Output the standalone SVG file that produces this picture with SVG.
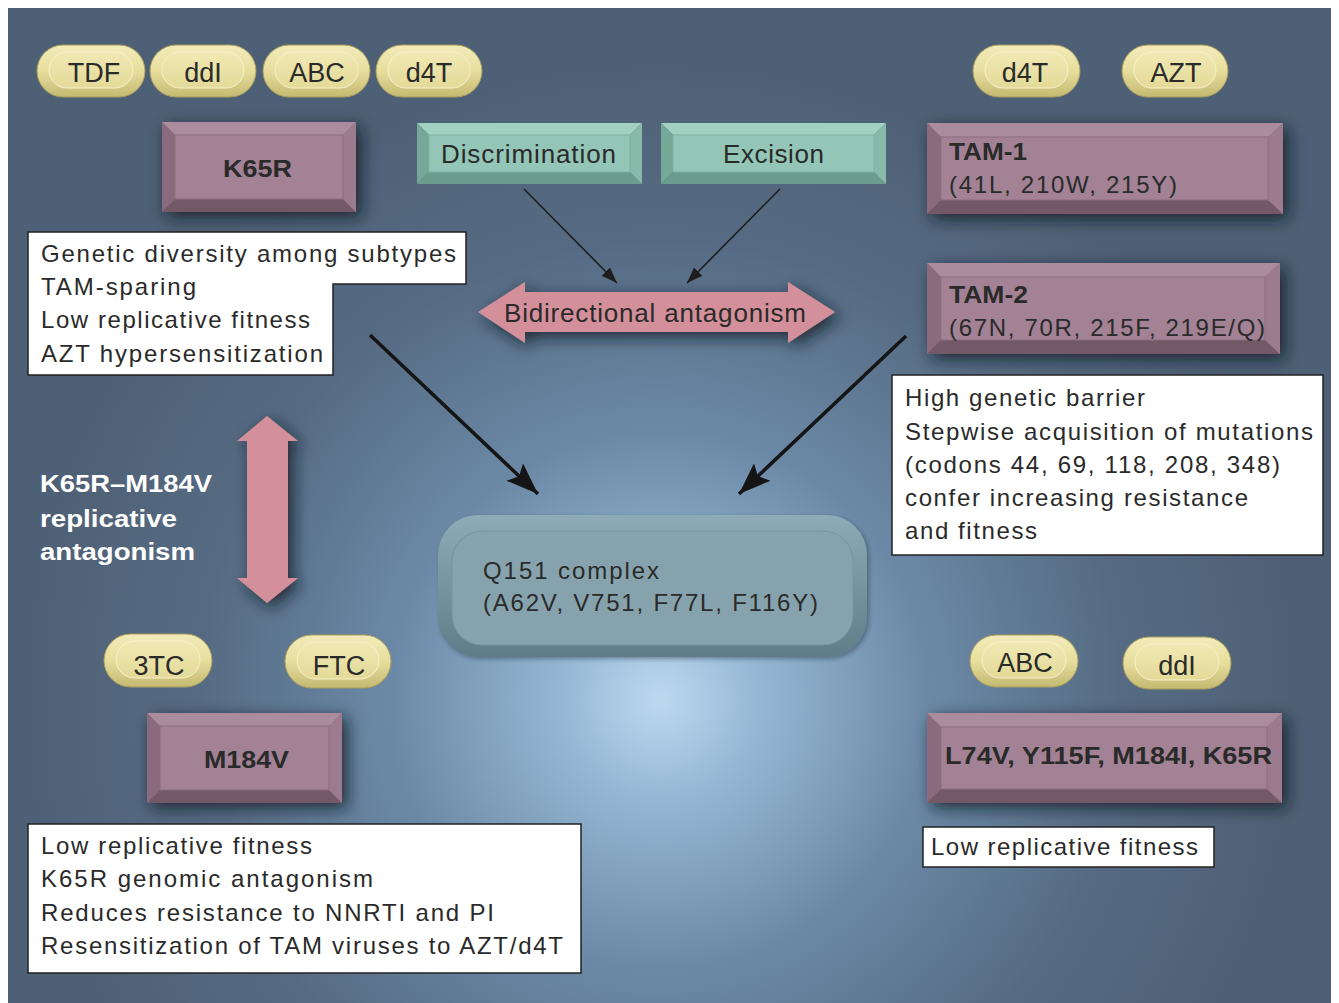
<svg xmlns="http://www.w3.org/2000/svg" width="1339" height="1003" viewBox="0 0 1339 1003">
<defs>
<radialGradient id="bg" gradientUnits="userSpaceOnUse" cx="660" cy="700" r="640">
<stop offset="0" stop-color="#bdd9f0"/>
<stop offset="0.15" stop-color="#96b8d6"/>
<stop offset="0.42" stop-color="#6b89a6"/>
<stop offset="0.72" stop-color="#566b83"/>
<stop offset="1" stop-color="#4e6075"/>
</radialGradient>
<linearGradient id="pillG" x1="0" y1="0" x2="0" y2="1">
<stop offset="0" stop-color="#f2ebba"/>
<stop offset="0.5" stop-color="#e7de9d"/>
<stop offset="1" stop-color="#c4b972"/>
</linearGradient>
<linearGradient id="pillIn" x1="0" y1="0" x2="0" y2="1">
<stop offset="0" stop-color="#f0e9b4"/>
<stop offset="1" stop-color="#e3da98"/>
</linearGradient>
<linearGradient id="qG" x1="0" y1="0" x2="0" y2="1">
<stop offset="0" stop-color="#8eacb6"/>
<stop offset="1" stop-color="#5f7c88"/>
</linearGradient>
<filter id="sh" x="-30%" y="-40%" width="160%" height="180%">
<feDropShadow dx="5" dy="5" stdDeviation="8" flood-color="#0e1622" flood-opacity="0.8"/>
</filter>
<filter id="shs" x="-20%" y="-30%" width="140%" height="160%">
<feDropShadow dx="2" dy="2" stdDeviation="2" flood-color="#1a2230" flood-opacity="0.4"/>
</filter>
<marker id="ahS" markerUnits="userSpaceOnUse" markerWidth="18" markerHeight="12" refX="16" refY="6" orient="auto">
<path d="M0,0 L16,6 L0,12 Z" fill="#1e1e1e"/>
</marker>
<marker id="ahL" markerUnits="userSpaceOnUse" markerWidth="34" markerHeight="24" refX="32" refY="12" orient="auto">
<path d="M0,0 L32,12 L0,24 L6,12 Z" fill="#151515"/>
</marker>
<style>
.t{font-family:"Liberation Sans",Arial,Helvetica,sans-serif;fill:#2a2a2a}
.pt{font-size:27px;text-anchor:middle}
.bt{font-size:23px;font-weight:bold}
.nt{font-size:24px}
.pill{fill:url(#pillG);stroke:#a99e5c;stroke-width:1}
.pin{fill:url(#pillIn);stroke:#f7f2cc;stroke-width:1}
.mt{fill:#aa8c9d}.ml{fill:#8a6b7d}.mb{fill:#735868}.mr{fill:#9b7b8d}
.mf{fill:#a28294;stroke:#8c6d7f;stroke-width:1}
.tt{fill:#a0d1c1}.tl{fill:#76a898}.tb{fill:#6b9c8d}.tr{fill:#88baaa}
.tf{fill:#93c6b6;stroke:#7fb1a1;stroke-width:1}
.wb{fill:#ffffff;stroke:#222;stroke-width:1.5}
.pa{fill:#d4909a}
</style>
</defs>

<rect x="0" y="0" width="1339" height="1003" fill="#ffffff"/>
<rect x="8" y="8" width="1323" height="995" fill="url(#bg)"/>

<!-- pills -->
<g id="pill-TDF"><rect class="pill" x="37" y="45" width="108" height="52" rx="26"/><rect class="pin" x="49" y="52" width="84" height="36" rx="18"/><text class="t pt" x="94" y="82">TDF</text></g>
<g id="pill-ddI-top"><rect class="pill" x="150" y="45" width="106" height="52" rx="26"/><rect class="pin" x="162" y="52" width="82" height="36" rx="18"/><text class="t pt" x="203" y="82">ddI</text></g>
<g id="pill-ABC-top"><rect class="pill" x="263" y="45" width="107" height="52" rx="26"/><rect class="pin" x="275" y="52" width="83" height="36" rx="18"/><text class="t pt" x="317" y="82">ABC</text></g>
<g id="pill-d4T-left"><rect class="pill" x="376" y="45" width="106" height="52" rx="26"/><rect class="pin" x="388" y="52" width="82" height="36" rx="18"/><text class="t pt" x="429" y="82">d4T</text></g>
<g id="pill-d4T-right"><rect class="pill" x="973" y="45" width="107" height="52" rx="26"/><rect class="pin" x="985" y="52" width="83" height="36" rx="18"/><text class="t pt" x="1025" y="82">d4T</text></g>
<g id="pill-AZT"><rect class="pill" x="1122" y="45" width="106" height="52" rx="26"/><rect class="pin" x="1134" y="52" width="82" height="36" rx="18"/><text class="t pt" x="1176" y="82">AZT</text></g>
<g id="pill-3TC"><rect class="pill" x="104" y="634" width="108" height="53" rx="26.5"/><rect class="pin" x="116" y="641" width="84" height="37" rx="18.5"/><text class="t pt" x="159" y="675">3TC</text></g>
<g id="pill-FTC"><rect class="pill" x="285" y="635" width="106" height="53" rx="26.5"/><rect class="pin" x="297" y="642" width="82" height="37" rx="18.5"/><text class="t pt" x="339" y="675">FTC</text></g>
<g id="pill-ABC-bottom"><rect class="pill" x="970" y="635" width="108" height="52" rx="26"/><rect class="pin" x="982" y="642" width="84" height="36" rx="18"/><text class="t pt" x="1025" y="672">ABC</text></g>
<g id="pill-ddI-bottom"><rect class="pill" x="1123" y="637" width="108" height="52" rx="26"/><rect class="pin" x="1135" y="644" width="84" height="36" rx="18"/><text class="t pt" x="1177" y="675">ddI</text></g>

<!-- mutation boxes -->
<g id="box-K65R">
<rect x="162" y="122" width="194" height="90" fill="#8a6b7d" filter="url(#sh)"/>
<polygon class="mt" points="162,122 356,122 343,135 175,135"/>
<polygon class="ml" points="162,122 175,135 175,199 162,212"/>
<polygon class="mb" points="162,212 175,199 343,199 356,212"/>
<polygon class="mr" points="356,122 356,212 343,199 343,135"/>
<rect class="mf" x="175" y="135" width="168" height="64"/>
<text class="t bt" x="223" y="177" textLength="69" lengthAdjust="spacingAndGlyphs">K65R</text>
</g>
<g id="box-TAM1">
<rect x="927" y="123" width="356" height="91" fill="#8a6b7d" filter="url(#sh)"/>
<polygon class="mt" points="927,123 1283,123 1268,137 941,137"/>
<polygon class="ml" points="927,123 941,137 941,200 927,214"/>
<polygon class="mb" points="927,214 941,200 1268,200 1283,214"/>
<polygon class="mr" points="1283,123 1283,214 1268,200 1268,137"/>
<rect class="mf" x="941" y="137" width="327" height="63"/>
<text class="t bt" x="949" y="160" textLength="78" lengthAdjust="spacingAndGlyphs">TAM-1</text>
<text class="t nt" x="949" y="193" textLength="228">(41L, 210W, 215Y)</text>
</g>
<g id="box-TAM2">
<rect x="927" y="263" width="353" height="91" fill="#8a6b7d" filter="url(#sh)"/>
<polygon class="mt" points="927,263 1280,263 1265,277 941,277"/>
<polygon class="ml" points="927,263 941,277 941,340 927,354"/>
<polygon class="mb" points="927,354 941,340 1265,340 1280,354"/>
<polygon class="mr" points="1280,263 1280,354 1265,340 1265,277"/>
<rect class="mf" x="941" y="277" width="324" height="63"/>
<text class="t bt" x="949" y="303" textLength="79" lengthAdjust="spacingAndGlyphs">TAM-2</text>
<text class="t nt" x="949" y="336" textLength="316">(67N, 70R, 215F, 219E/Q)</text>
</g>
<g id="box-M184V">
<rect x="147" y="713" width="195" height="90" fill="#8a6b7d" filter="url(#sh)"/>
<polygon class="mt" points="147,713 342,713 329,726 160,726"/>
<polygon class="ml" points="147,713 160,726 160,790 147,803"/>
<polygon class="mb" points="147,803 160,790 329,790 342,803"/>
<polygon class="mr" points="342,713 342,803 329,790 329,726"/>
<rect class="mf" x="160" y="726" width="169" height="64"/>
<text class="t bt" x="204" y="768" textLength="85" lengthAdjust="spacingAndGlyphs">M184V</text>
</g>
<g id="box-L74V">
<rect x="927" y="713" width="355" height="90" fill="#8a6b7d" filter="url(#sh)"/>
<polygon class="mt" points="927,713 1282,713 1267,727 941,727"/>
<polygon class="ml" points="927,713 941,727 941,789 927,803"/>
<polygon class="mb" points="927,803 941,789 1267,789 1282,803"/>
<polygon class="mr" points="1282,713 1282,803 1267,789 1267,727"/>
<rect class="mf" x="941" y="727" width="326" height="62"/>
<text class="t bt" x="945" y="764" textLength="327" lengthAdjust="spacingAndGlyphs">L74V, Y115F, M184I, K65R</text>
</g>

<!-- mechanism boxes -->
<g id="box-Discrimination">
<polygon class="tt" points="417,123 642,123 630,135 429,135"/>
<polygon class="tl" points="417,123 429,135 429,172 417,184"/>
<polygon class="tb" points="417,184 429,172 630,172 642,184"/>
<polygon class="tr" points="642,123 642,184 630,172 630,135"/>
<rect class="tf" x="429" y="135" width="201" height="37"/>
<text class="t" x="441" y="163" font-size="26" textLength="175">Discrimination</text>
</g>
<g id="box-Excision">
<polygon class="tt" points="661,123 886,123 874,135 673,135"/>
<polygon class="tl" points="661,123 673,135 673,172 661,184"/>
<polygon class="tb" points="661,184 673,172 874,172 886,184"/>
<polygon class="tr" points="886,123 886,184 874,172 874,135"/>
<rect class="tf" x="673" y="135" width="201" height="37"/>
<text class="t" x="723" y="163" font-size="26" textLength="101">Excision</text>
</g>

<!-- Q151 complex -->
<g id="box-Q151">
<rect x="438" y="515" width="429" height="142" rx="40" fill="url(#qG)" filter="url(#shs)"/>
<rect x="452" y="531" width="401" height="114" rx="30" fill="#86a3ad" stroke="#7793a0" stroke-width="1"/>
<text class="t nt" x="483" y="579" textLength="176">Q151 complex</text>
<text class="t nt" x="483" y="611" textLength="335">(A62V, V751, F77L, F116Y)</text>
</g>

<!-- antagonism arrows -->
<g id="arrow-bidirectional">
<polygon class="pa" filter="url(#sh)" points="478,312 525,282 525,292 788,292 788,282 835,312 788,343 788,332 525,332 525,343"/>
<text class="t" x="504" y="322" font-size="26" textLength="302">Bidirectional antagonism</text>
</g>
<g id="arrow-replicative">
<polygon class="pa" filter="url(#sh)" points="267,416 298,441 288,441 288,578 298,578 267,603 237,578 247,578 247,441 237,441"/>
<text class="t" font-size="23" font-weight="bold" style="fill:#ffffff">
<tspan x="40" y="492" textLength="172" lengthAdjust="spacingAndGlyphs">K65R–M184V</tspan>
<tspan x="40" y="527" textLength="137" lengthAdjust="spacingAndGlyphs">replicative</tspan>
<tspan x="40" y="560" textLength="155" lengthAdjust="spacingAndGlyphs">antagonism</tspan>
</text>
</g>

<!-- text boxes -->
<g id="note-K65R">
<polygon class="wb" points="28,232 466,232 466,284 333,284 333,375 28,375"/>
<text class="t nt" x="41" y="262" textLength="415">Genetic diversity among subtypes</text>
<text class="t nt" x="41" y="295" textLength="155">TAM-sparing</text>
<text class="t nt" x="41" y="328" textLength="269">Low replicative fitness</text>
<text class="t nt" x="41" y="362" textLength="282">AZT hypersensitization</text>
</g>
<g id="note-Q151">
<rect class="wb" x="892" y="375" width="431" height="180"/>
<text class="t nt" x="905" y="406" textLength="240">High genetic barrier</text>
<text class="t nt" x="905" y="440" textLength="408">Stepwise acquisition of mutations</text>
<text class="t nt" x="905" y="473" textLength="375">(codons 44, 69, 118, 208, 348)</text>
<text class="t nt" x="905" y="506" textLength="343">confer increasing resistance</text>
<text class="t nt" x="905" y="539" textLength="132">and fitness</text>
</g>
<g id="note-M184V">
<rect class="wb" x="28" y="824" width="553" height="149"/>
<text class="t nt" x="41" y="854" textLength="271">Low replicative fitness</text>
<text class="t nt" x="41" y="887" textLength="332">K65R genomic antagonism</text>
<text class="t nt" x="41" y="921" textLength="453">Reduces resistance to NNRTI and PI</text>
<text class="t nt" x="41" y="954" textLength="522">Resensitization of TAM viruses to AZT/d4T</text>
</g>
<g id="note-L74V">
<rect class="wb" x="923" y="827" width="291" height="40"/>
<text class="t nt" x="931" y="855" textLength="267">Low replicative fitness</text>
</g>

<!-- connectors -->
<g id="connectors" fill="none" stroke="#1e1e1e">
<line x1="524" y1="189" x2="617" y2="283" stroke-width="1.6" marker-end="url(#ahS)"/>
<line x1="780" y1="189" x2="687" y2="283" stroke-width="1.6" marker-end="url(#ahS)"/>
<line x1="370" y1="335" x2="538" y2="494" stroke-width="3.5" stroke="#151515" marker-end="url(#ahL)"/>
<line x1="906" y1="336" x2="739" y2="494" stroke-width="3.5" stroke="#151515" marker-end="url(#ahL)"/>
</g>
</svg>
